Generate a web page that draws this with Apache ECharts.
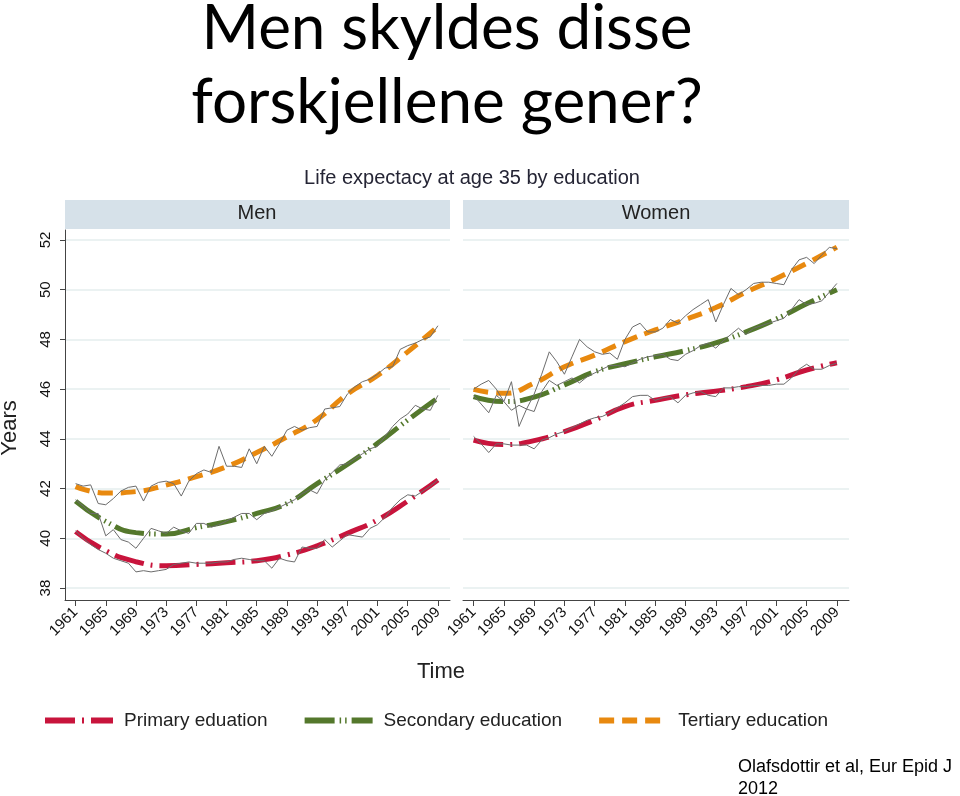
<!DOCTYPE html>
<html><head><meta charset="utf-8">
<script src="https://cdn.jsdelivr.net/npm/echarts@6/dist/echarts.min.js"></script>
<style>html,body{margin:0;padding:0;background:#fff}#c{width:960px;height:796px}</style>
</head><body><div id="c"></div>
<script>
const years = [1961,1962,1963,1964,1965,1966,1967,1968,1969,1970,1971,1972,1973,1974,1975,1976,1977,1978,1979,1980,
 1981,1982,1983,1984,1985,1986,1987,1988,1989,1990,1991,1992,1993,1994,1995,1996,1997,1998,1999,2000,
 2001,2002,2003,2004,2005,2006,2007,2008,2009];
const tickYears = [1961,1965,1969,1973,1977,1981,1985,1989,1993,1997,2001,2005,2009];
const yTicks = [38,40,42,44,46,48,50,52];
const seriesNames = ['Primary eduation','Secondary education','Tertiary education'];

// Observed (thin grey) series
const menPrimaryRaw = [40.3,40.0,39.75,39.55,39.4,39.2,39.1,39.0,38.65,38.7,38.65,38.7,38.75,38.95,39.0,39.05,39.0,39.0,39.0,39.05,
 39.05,39.15,39.2,39.15,39.1,39.1,38.8,39.2,39.1,39.05,39.65,39.6,39.6,39.95,39.65,39.9,40.15,40.1,40.05,40.4,
 40.55,40.85,41.25,41.55,41.75,41.7,41.9,42.1,42.35];
const menSecondaryRaw = [41.55,41.3,41.0,41.0,40.1,40.35,39.95,39.85,39.6,40.0,40.4,40.3,40.2,40.45,40.3,40.2,40.6,40.6,40.45,40.55,
 40.7,40.85,41.0,41.0,40.75,41.0,41.1,41.25,41.4,41.55,41.8,41.95,41.8,42.35,42.65,42.95,43.0,43.2,43.4,43.6,
 43.7,44.1,44.5,44.8,45.0,45.35,45.2,45.15,45.75];
const menTertiaryRaw = [42.2,42.1,42.15,41.4,41.35,41.6,41.9,42.05,42.1,41.5,42.1,42.25,42.3,42.2,41.7,42.3,42.6,42.75,42.65,43.7,
 42.9,42.9,42.85,43.6,43.0,43.7,43.3,43.8,44.35,44.5,44.35,44.45,44.5,45.2,45.25,45.3,45.8,46.1,46.3,46.4,
 46.6,46.85,46.9,47.6,47.75,47.85,48.0,48.1,48.55];
const womenPrimaryRaw = [44.1,43.8,43.45,43.8,43.8,43.75,43.75,43.75,43.6,43.95,44.05,44.2,44.3,44.45,44.6,44.75,44.85,44.9,45.05,45.25,
 45.45,45.7,45.75,45.75,45.55,45.65,45.7,45.45,45.75,45.85,45.9,45.75,45.7,46.05,46.05,46.1,46.1,46.15,46.15,46.15,
 46.2,46.2,46.45,46.8,47.0,46.8,46.8,46.95,47.05];
const womenSecondaryRaw = [45.75,45.4,45.05,45.75,45.5,45.15,45.35,45.2,45.1,45.9,46.35,46.15,46.3,46.45,46.25,46.5,46.65,46.8,46.95,46.95,
 46.9,47.05,47.2,47.3,47.35,47.4,47.2,47.15,47.4,47.55,47.75,47.85,47.65,47.95,48.2,48.45,48.2,48.45,48.55,48.65,
 48.75,48.85,49.2,49.6,49.4,49.45,49.55,49.9,50.25];
const womenTertiaryRaw = [46.0,46.2,46.35,46.0,45.5,46.3,44.5,45.2,45.8,46.6,47.5,47.1,46.6,47.3,48.0,47.7,47.5,47.4,47.45,47.2,
 48.0,48.5,48.65,48.3,48.3,48.45,48.8,48.65,48.95,49.2,49.4,49.6,48.7,49.4,50.05,49.8,50.0,50.25,50.3,50.3,
 50.25,50.2,50.8,51.2,51.3,51.05,51.4,51.7,51.65];

// Fitted (thick dashed) curves, read at tick years
const menPrimaryFit = [40.27,39.5,39.06,38.9,38.95,39.02,39.1,39.33,39.7,40.2,40.74,41.5,42.35];
const menSecondaryFit = [41.5,40.68,40.23,40.17,40.43,40.67,41.0,41.4,42.2,42.97,43.82,44.76,45.65];
const menTertiaryFit = [42.08,41.82,41.88,42.14,42.48,42.88,43.45,44.08,44.78,45.8,46.55,47.5,48.52];
const womenPrimaryFit = [43.95,43.77,43.93,44.29,44.76,45.3,45.55,45.77,45.92,46.1,46.37,46.77,47.06];
const womenSecondaryFit = [45.7,45.5,45.68,46.17,46.7,47.02,47.3,47.55,47.86,48.3,48.82,49.43,50.0];
const womenTertiaryFit = [45.99,45.83,46.24,46.9,47.37,47.91,48.38,48.8,49.28,49.9,50.45,51.06,51.71];

const FONT = '"Liberation Sans", Arial, sans-serif';
const colors = ['#c8143c', '#54782c', '#e8890f'];
const dashes = [[30,7,2,7], [30,5,1.5,4,1.5,5], [15,8]];

function pairs(xs, vs){ return xs.map((x,i)=>[x, vs[i]]); }

const fits = [[menPrimaryFit, menSecondaryFit, menTertiaryFit],[womenPrimaryFit, womenSecondaryFit, womenTertiaryFit]];
const raws = [[menPrimaryRaw, menSecondaryRaw, menTertiaryRaw],[womenPrimaryRaw, womenSecondaryRaw, womenTertiaryRaw]];

const series = [];
for (let g=0; g<2; g++){
  for (let k=0; k<3; k++){
    series.push({
      name: seriesNames[k], type:'line', xAxisIndex:g, yAxisIndex:g,
      data: pairs(tickYears, fits[g][k]), smooth:0.5, symbol:'none', z:2,
      lineStyle:{color:colors[k], width:5, type:dashes[k], cap:'butt'},
      itemStyle:{color:colors[k]}, silent:true, animation:false
    });
  }
  for (let k=0; k<3; k++){
    series.push({
      name: 'raw'+g+k, type:'line', xAxisIndex:g, yAxisIndex:g,
      data: pairs(years, raws[g][k]), symbol:'none', z:3,
      lineStyle:{color:'#6c6c6c', width:1}, silent:true, animation:false
    });
  }
}

function xAxisFor(g){
  return {
    type:'value', gridIndex:g, min:1959.6, max:2010.6,
    axisLine:{show:true, lineStyle:{color:'#444', width:1}},
    axisTick:{show:true, length:6, customValues:tickYears, lineStyle:{color:'#444'}},
    axisLabel:{customValues:tickYears, rotate:45, fontSize:15, color:'#111', margin:10, fontFamily:FONT,
      formatter:(v)=>String(v)},
    splitLine:{show:false}
  };
}
function yAxisFor(g){
  return {
    type:'value', gridIndex:g, min:37.52, max:52.4,
    axisLine:{show:g===0, lineStyle:{color:'#444', width:1}},
    axisTick:{show:g===0, length:5, customValues:yTicks, lineStyle:{color:'#444'}},
    axisLabel:{show:g===0, customValues:yTicks, rotate:90, fontSize:15, color:'#111', margin:12, fontFamily:FONT},
    splitLine:{show:true, lineStyle:{color:'#e4eeee', width:1.5}}
  };
}

const option = {
  backgroundColor:'#ffffff',
  animation:false,
  grid:[
    {left:65, top:230, width:385, height:370},
    {left:463, top:230, width:386, height:370}
  ],
  xAxis:[xAxisFor(0), xAxisFor(1)],
  yAxis:[yAxisFor(0), yAxisFor(1)],
  legend:{
    data:seriesNames, left:42, top:711, padding:0, itemWidth:68, itemHeight:14, itemGap:34,
    itemStyle:{opacity:0},
    lineStyle:{width:6},
    textStyle:{fontSize:19, color:'#222', fontFamily:FONT, padding:[0,0,0,6]},
    selectedMode:false
  },
  graphic:[
    {type:'text', x:447, y:29, style:{text:'Men skyldes disse', font:'62px Lato, "Open Sans", sans-serif', fill:'#000', textAlign:'center', textVerticalAlign:'middle'}},
    {type:'text', x:447, y:103, style:{text:'forskjellene gener?', font:'62px Lato, "Open Sans", sans-serif', fill:'#000', textAlign:'center', textVerticalAlign:'middle'}},
    {type:'text', x:472, y:178, style:{text:'Life expectacy at age 35 by education', font:'20px '+FONT, fill:'#252535', textAlign:'center', textVerticalAlign:'middle'}},
    {type:'rect', shape:{x:65, y:200, width:385, height:29}, style:{fill:'#d6e1e9'}},
    {type:'rect', shape:{x:463, y:200, width:386, height:29}, style:{fill:'#d6e1e9'}},
    {type:'text', x:257, y:213, style:{text:'Men', font:'20px '+FONT, fill:'#222', textAlign:'center', textVerticalAlign:'middle'}},
    {type:'text', x:656, y:213, style:{text:'Women', font:'20px '+FONT, fill:'#222', textAlign:'center', textVerticalAlign:'middle'}},
    {type:'text', x:10, y:428, rotation:Math.PI/2, style:{text:'Years', font:'22px '+FONT, fill:'#222', textAlign:'center', textVerticalAlign:'middle'}},
    {type:'text', x:441, y:672, style:{text:'Time', font:'22px '+FONT, fill:'#222', textAlign:'center', textVerticalAlign:'middle'}},
    {type:'text', x:738, y:767, style:{text:'Olafsdottir et al, Eur Epid J', font:'18px '+FONT, fill:'#000', textAlign:'left', textVerticalAlign:'middle'}},
    {type:'text', x:738, y:789, style:{text:'2012', font:'18px '+FONT, fill:'#000', textAlign:'left', textVerticalAlign:'middle'}}
  ],
  series:series
};
const chart = echarts.init(document.getElementById('c'), null, {renderer:'canvas'});
chart.setOption(option);
</script></body></html>
